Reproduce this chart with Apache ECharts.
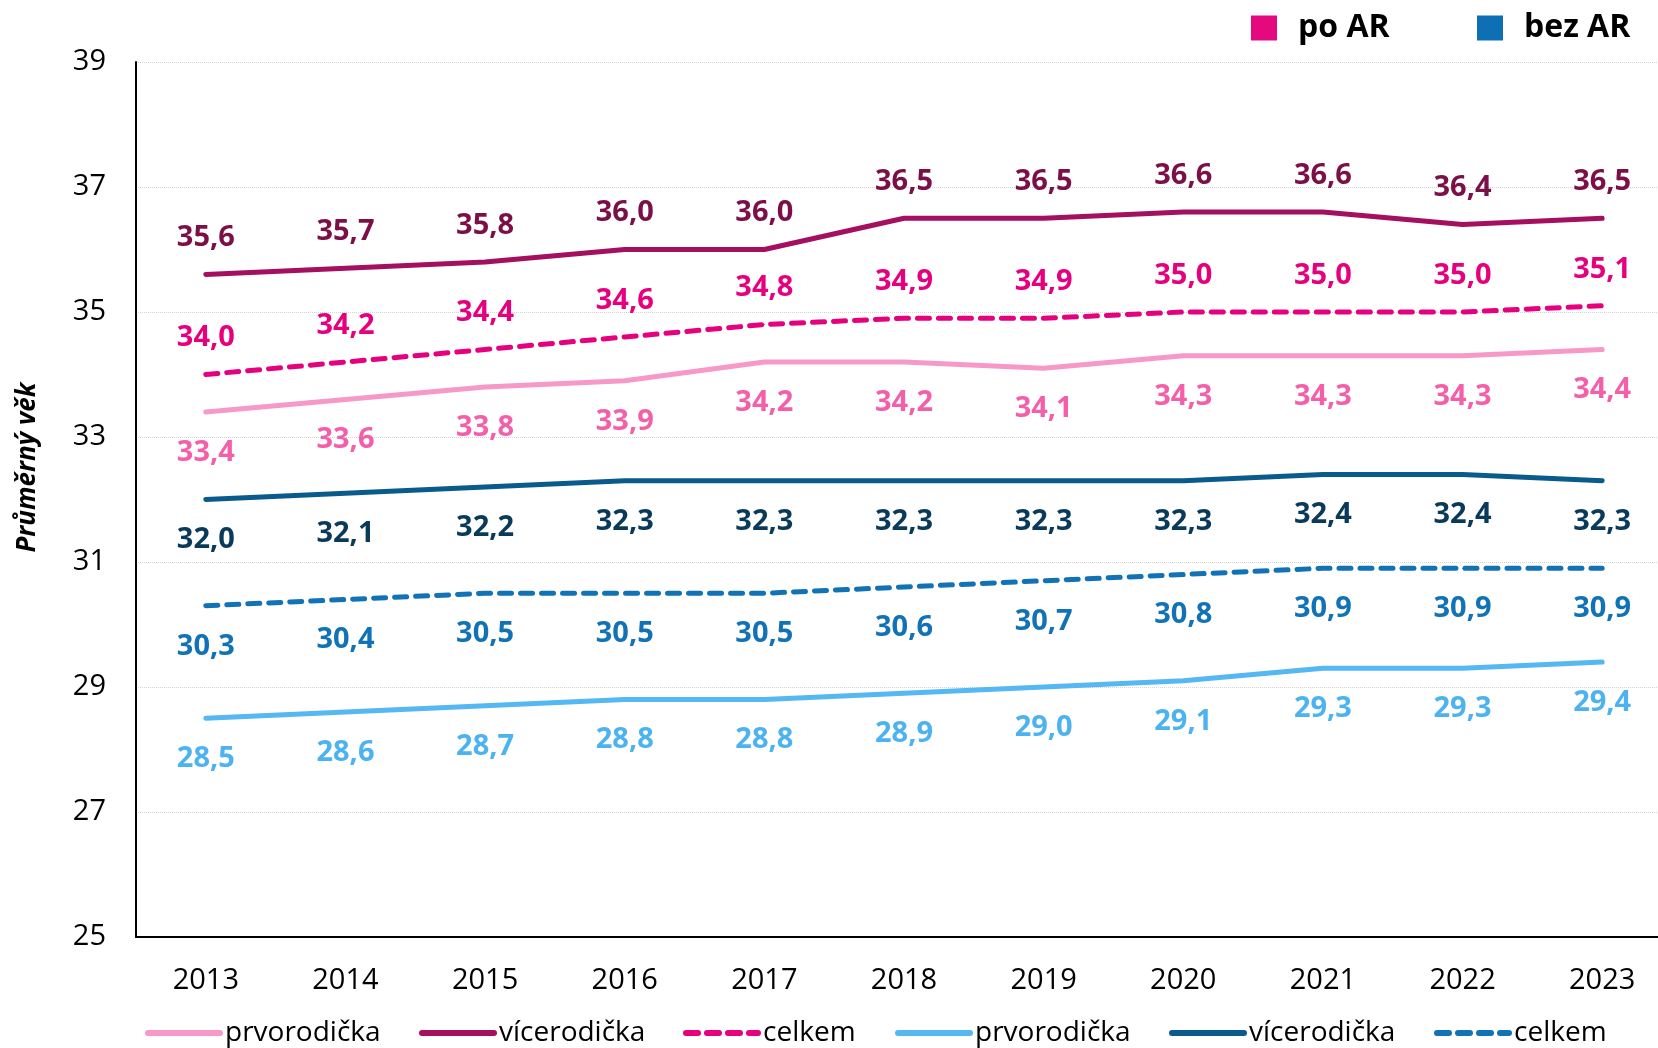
<!DOCTYPE html>
<html>
<head>
<meta charset="utf-8">
<script src="https://cdn.jsdelivr.net/npm/echarts@6/dist/echarts.min.js"></script>
<style>
  html, body { margin: 0; padding: 0; background: #fff; }
  #chart { width: 1658px; height: 1048px; }
</style>
</head>
<body>
<div id="chart"></div>
<script>
const years = ['2013', '2014', '2015', '2016', '2017', '2018', '2019', '2020', '2021', '2022', '2023']
const yTicks = { min: 25, max: 39, step: 2 }

// po AR
const prvoPo = [33.4, 33.6, 33.8, 33.9, 34.2, 34.2, 34.1, 34.3, 34.3, 34.3, 34.4]
const viceroPo = [35.6, 35.7, 35.8, 36.0, 36.0, 36.5, 36.5, 36.6, 36.6, 36.4, 36.5]
const celkemPo = [34.0, 34.2, 34.4, 34.6, 34.8, 34.9, 34.9, 35.0, 35.0, 35.0, 35.1]
// bez AR
const prvoBez = [28.5, 28.6, 28.7, 28.8, 28.8, 28.9, 29.0, 29.1, 29.3, 29.3, 29.4]
const viceroBez = [32.0, 32.1, 32.2, 32.3, 32.3, 32.3, 32.3, 32.3, 32.4, 32.4, 32.3]
const celkemBez = [30.3, 30.4, 30.5, 30.5, 30.5, 30.6, 30.7, 30.8, 30.9, 30.9, 30.9]

const font = '"Open Sans", "Noto Sans", sans-serif'
const fmt = (p) => p.value.toFixed(1).replace('.', ',')

const mkLine = (name, data, color, labelColor, pos, dashed) => ({
  name,
  type: 'line',
  data,
  symbol: 'circle',
  symbolSize: 1,
  showSymbol: true,
  itemStyle: { color },
  lineStyle: {
    color,
    width: 5,
    cap: 'round',
    join: 'round',
    type: dashed ? [12, 9] : 'solid',
  },
  label: {
    show: true,
    position: pos,
    distance: pos === 'top' ? 21 : 25,
    formatter: fmt,
    color: labelColor,
    fontFamily: font,
    fontWeight: 'bold',
    fontSize: 29,
    lineHeight: 30,
  },
  emphasis: { disabled: true },
  z: 3,
})

const series = [
  mkLine('prvorodička (po AR)', prvoPo, '#F799C8', '#F45FAA', 'bottom', false),
  mkLine('vícerodička (po AR)', viceroPo, '#A50F5F', '#7B0F47', 'top', false),
  mkLine('celkem (po AR)', celkemPo, '#E6007E', '#E6007E', 'top', true),
  mkLine('prvorodička (bez AR)', prvoBez, '#55B8F3', '#4DB3F0', 'bottom', false),
  mkLine('vícerodička (bez AR)', viceroBez, '#0B5A8C', '#0A3A5A', 'bottom', false),
  mkLine('celkem (bez AR)', celkemBez, '#1272B6', '#1272B6', 'bottom', true),
  { name: 'po AR', type: 'line', data: [], itemStyle: { color: '#E5097F' } },
  { name: 'bez AR', type: 'line', data: [], itemStyle: { color: '#0F6FB5' } },
]

// bottom legend, one component per entry so each sits where the original has it
const bottomLeft = [145, 419, 683, 895, 1169, 1434]
const bottomLegends = series.slice(0, 6).map((s, i) => ({
  data: [s.name],
  left: bottomLeft[i],
  top: 1017,
  padding: 0,
  itemWidth: 72,
  itemHeight: 14,
  selectedMode: false,
  itemStyle: { opacity: 0 },
  lineStyle: { width: 6 },
  formatter: (n) => n.split(' (')[0],
  textStyle: { fontFamily: font, fontSize: 28, lineHeight: 32, color: '#000' },
}))

const topLegends = [
  { name: 'po AR', left: 1251 },
  { name: 'bez AR', left: 1477 },
].map((t) => ({
  data: [t.name],
  left: t.left,
  top: 12,
  padding: 0,
  icon: 'rect',
  itemWidth: 26,
  itemHeight: 25,
  selectedMode: false,
  textStyle: {
    fontFamily: font,
    fontSize: 32,
    fontWeight: 'bold',
    color: '#000',
    padding: [0, 0, 0, 16],
  },
}))

const chart = echarts.init(document.getElementById('chart'), null, { renderer: 'canvas' })
chart.setOption({
  animation: false,
  backgroundColor: '#fff',
  legend: [...topLegends, ...bottomLegends],
  grid: {
    top: 62,
    bottom: 111,
    left: 136,
    right: -14,
    outerBoundsMode: 'none',
  },
  xAxis: {
    type: 'category',
    data: years,
    boundaryGap: true,
    axisTick: { show: false },
    axisLine: { lineStyle: { color: '#000', width: 2 } },
    axisLabel: { color: '#000', fontFamily: font, fontSize: 29, margin: 29 },
    splitLine: { show: false },
  },
  yAxis: {
    type: 'value',
    min: yTicks.min,
    max: yTicks.max,
    interval: yTicks.step,
    name: 'Průměrný věk',
    nameLocation: 'middle',
    nameGap: 95,
    nameTextStyle: {
      fontFamily: font,
      fontSize: 26,
      fontWeight: 'bold',
      fontStyle: 'italic',
      color: '#000',
      padding: [0, 0, 0, 64],
    },
    axisLine: { show: true, lineStyle: { color: '#000', width: 2 } },
    axisTick: { show: false },
    axisLabel: { color: '#000', fontFamily: font, fontSize: 29, margin: 30 },
    splitLine: { lineStyle: { color: '#D4D4D4', type: 'dotted', width: 1 } },
  },
  series,
})
</script>
</body>
</html>
